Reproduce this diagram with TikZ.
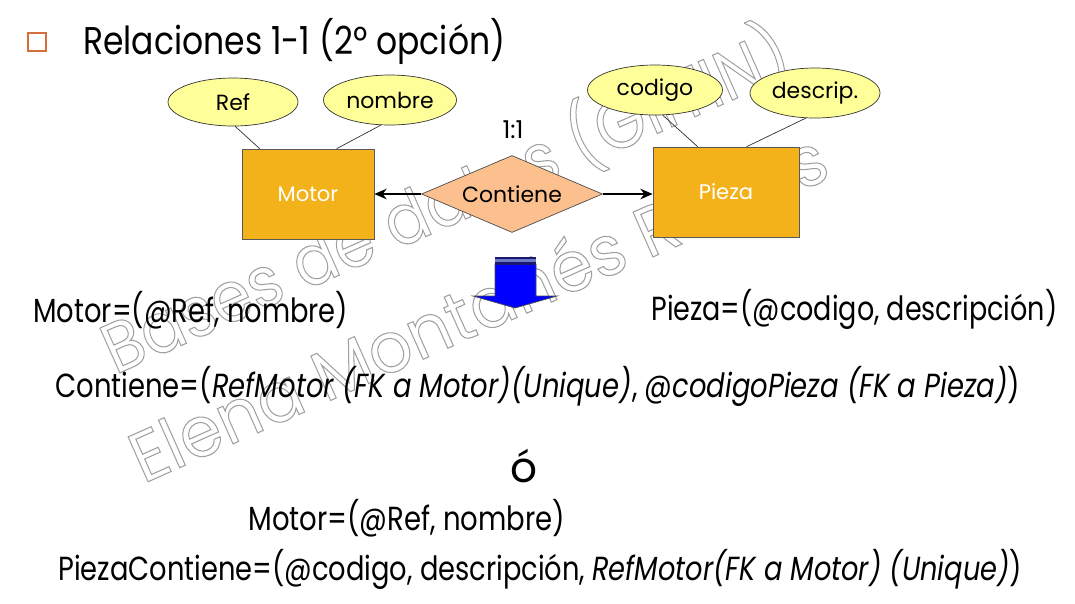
\documentclass[tikz,border=0pt]{standalone}
\usepackage{fontspec}
\setmainfont{Poppins}
\usepackage{xcolor}
\usepackage{graphicx}
\usepackage{tikz}
\usetikzlibrary{shapes.geometric,arrows.meta,calc}

\definecolor{cajanaranja}{RGB}{244,178,26}
\definecolor{rombo}{RGB}{251,192,142}
\definecolor{elipse}{RGB}{255,255,153}
\definecolor{vineta}{RGB}{214,110,60}
\definecolor{marino}{RGB}{25,25,110}
\definecolor{franja}{RGB}{110,120,200}

\newcommand{\ajusta}[2]{\resizebox{#1}{\height}{#2}}
\newcommand{\hueco}[1]{\special{pdf:literal direct 1 Tr 0.6 w}#1\special{pdf:literal direct 0 Tr}}

\tikzset{
  entidad/.style={draw=black!65, fill=cajanaranja, text=white, inner sep=0pt, font=\fontsize{12}{14}\selectfont},
  atributo/.style={ellipse, draw=black!80, fill=elipse, inner sep=0pt, font=\fontsize{12.5}{14}\selectfont},
  relacion/.style={diamond, aspect=2.35, draw=black!70, fill=rombo, inner sep=0pt, font=\fontsize{12.5}{14}\selectfont},
  linea/.style={anchor=base west, inner sep=0pt, font=\fontsize{19}{22}\selectfont},
  marca/.style={anchor=base west, inner sep=0pt, text=gray!75, rotate=24, font=\fontsize{40}{44}\selectfont}
}

\begin{document}
\begin{tikzpicture}[x=0.02cm, y=-0.02cm]
  \useasboundingbox (0,0) rectangle (1075,603);
  \fill[white] (0,0) rectangle (1075,603);

  % marca de agua
  \node[marca] (wm1) at (115,375) {\ajusta{14.9cm}{\hueco{Bases de datos (GIITIN)}}};
  \node[marca] (wm2) at (143,484) {\ajusta{15.1cm}{\hueco{Elena Montañés Roces}}};

  % titulo
  \node[draw=vineta, line width=1.1pt, minimum size=0.36cm, inner sep=0pt] (bala) at (37,42) {};
  \node[anchor=base west, inner sep=0pt, font=\fontsize{22}{26}\selectfont] (titulo) at (83,54) {\ajusta{8.44cm}{Relaciones 1-1 (2º opción)}};

  % diagrama E/R
  \node[entidad, minimum width=2.64cm, minimum height=1.8cm] (motor) at (308,194) {Motor};
  \node[entidad, minimum width=2.92cm, minimum height=1.8cm] (pieza) at (726,192) {Pieza};
  \node[relacion, minimum width=3.62cm, minimum height=1.54cm] (contiene) at (512,194) {Contiene};
  \node[font=\fontsize{14}{16}\selectfont] (card) at (513,130) {1:1};

  \node[atributo, minimum width=2.6cm, minimum height=0.96cm] (ref) at (233,102) {Ref};
  \node[atributo, minimum width=2.66cm, minimum height=1cm] (nombre) at (390,100) {nombre};
  \node[atributo, minimum width=2.7cm, minimum height=1cm] (codigo) at (655,90) {codigo};
  \node[atributo, minimum width=2.6cm, minimum height=1cm] (descrip) at (815,93) {descrip.};

  \draw[black!80] (ref.275) -- ($(motor.north west)+(18,0)$);
  \draw[black!80] (nombre.250) -- ($(motor.north west)+(95,0)$);
  \draw[black!80] (codigo.287) -- ($(pieza.north west)+(45,0)$);
  \draw[black!80] (descrip.250) -- ($(pieza.north west)+(94,0)$);

  \draw[-{Stealth[length=7pt,width=6pt]}, line width=1.1pt] (contiene.west) -- (motor.east);
  \draw[-{Stealth[length=7pt,width=6pt]}, line width=1.1pt] (contiene.east) -- (contiene.east -| pieza.west);

  % flecha azul
  \fill[blue, draw=black!70, line width=0.4pt] (495,264) -- (536,264) -- (536,296) -- (557,296)
    -- (515,308) -- (473,296) -- (495,296) -- cycle;
  \fill[marino] (495,257) rectangle (536,259);
  \fill[franja] (495,259) rectangle (536,262);
  \fill[marino] (495,262) rectangle (536,264.5);

  % tablas
  \node[linea] (motorrel) at (33,322) {\ajusta{6.30cm}{Motor=(@Ref, nombre)}};
  \node[linea] (piezarel) at (651,320) {\ajusta{8.12cm}{Pieza=(@codigo, descripción)}};
  \node[linea] (contrel) at (55,397) {\ajusta{19.3cm}{Contiene=(\textit{RefMotor (FK a Motor)(Unique)}, @\textit{codigoPieza (FK a Pieza)})}};
  \node[anchor=base, inner sep=0pt, font=\fontsize{24}{28}\selectfont] (o) at (524,482) {ó};
  \node[linea] (motorrel2) at (248,530) {\ajusta{6.34cm}{Motor=(@Ref, nombre)}};
  \node[linea] (piezacont) at (58,580) {\ajusta{19.28cm}{PiezaContiene=(@codigo, descripción, \textit{RefMotor(FK a Motor) (Unique)})}};
\end{tikzpicture}
\end{document}
